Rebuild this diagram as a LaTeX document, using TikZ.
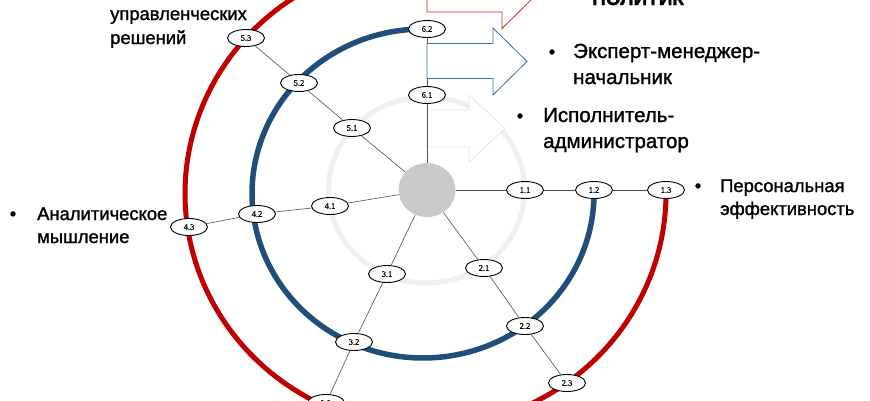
\documentclass[tikz,border=0pt]{standalone}
\usepackage{fontspec}
\setmainfont{Liberation Sans}
\newfontfamily\heavyfont[FakeBold=1.3]{Liberation Sans}
\newfontfamily\lblfont[FakeBold=0.6]{Liberation Serif}
\usetikzlibrary{shapes.geometric}
\definecolor{ringgray}{HTML}{EFEFEF}
\definecolor{hubgray}{HTML}{C9C9C9}
\definecolor{arcblue}{HTML}{1F4E79}
\definecolor{arcred}{HTML}{C00000}
\definecolor{arrblue}{HTML}{3A6FA8}
\definecolor{arrred}{HTML}{E02020}
\definecolor{arrgray}{HTML}{E6E6E6}
\definecolor{spokegray}{HTML}{505050}
\begin{document}
\begin{tikzpicture}[x=1pt,y=-1pt,
  num/.style={ellipse, draw=black, line width=0.9pt, fill=white,
    minimum width=37pt, minimum height=17pt, inner sep=0pt,
    font=\lblfont\fontsize{8.5}{8.5}\selectfont},
  hub/.style={ellipse, fill=hubgray, minimum width=57pt, minimum height=54pt, inner sep=0pt},
  spoke/.style={draw=spokegray, line width=0.6pt},
  txt/.style={anchor=base west, inner sep=0pt, font=\heavyfont\fontsize{18.4}{22}\selectfont},
  bigtxt/.style={anchor=base west, inner sep=0pt, font=\heavyfont\fontsize{20.5}{24}\selectfont},
  bul/.style={anchor=base, inner sep=0pt, font=\heavyfont\fontsize{18.4}{22}\selectfont},
  blockarrow/.style={line width=0.8pt, fill=white}
]
\useasboundingbox (0,0) rectangle (870,400);
\fill[white] (0,0) rectangle (870,400);

% light gray ring and gray arrow
\draw[ringgray, line width=5pt] (426.5,190) ellipse [x radius=98, y radius=93];
\draw[blockarrow, draw=arrgray] (427,110) -- (469,110) -- (469,95) -- (505,128.5) -- (469,162) -- (469,147) -- (427,147) -- cycle;

% blue and red arcs
\draw[arcblue, line width=5.5pt] plot[domain=0:270, samples=180] ({423+171*cos(\x)},{193.5+164.5*sin(\x)});
\draw[arcred, line width=5pt] plot[domain=0:270, samples=200] ({425.5+240.5*cos(\x)},{193.5+234*sin(\x)});

% hub and numbered nodes
\node[hub] (c) at (427,190) {};
\node[num] (n11) at (525,190) {1.1};
\node[num] (n12) at (594,190) {1.2};
\node[num] (n13) at (666,190) {1.3};
\node[num] (n21) at (484,268) {2.1};
\node[num] (n22) at (525,326) {2.2};
\node[num] (n23) at (567,383) {2.3};
\node[num] (n31) at (387,274) {3.1};
\node[num] (n32) at (354,342) {3.2};
\node[num] (n33) at (326,403) {3.3};
\node[num] (n41) at (330,206) {4.1};
\node[num] (n42) at (257,214) {4.2};
\node[num] (n43) at (189,227) {4.3};
\node[num] (n51) at (352,128) {5.1};
\node[num] (n52) at (299,83) {5.2};
\node[num] (n53) at (246,38) {5.3};
\node[num] (n61) at (427,95) {6.1};
\node[num] (n62) at (427,29) {6.2};

% spokes
\draw[spoke] (c) -- (n11) -- (n12) -- (n13);
\draw[spoke] (c) -- (n21) -- (n22) -- (n23);
\draw[spoke] (c) -- (n31) -- (n32) -- (n33);
\draw[spoke] (c) -- (n41) -- (n42) -- (n43);
\draw[spoke] (c) -- (n51) -- (n52) -- (n53);
\draw[spoke] (c) -- (n61) -- (n62);

% blue and red block arrows
\draw[blockarrow, draw=arrblue] (427,43.5) -- (493,43.5) -- (493,28) -- (527,61.5) -- (493,95) -- (493,78.5) -- (427,78.5) -- cycle;
\draw[blockarrow, draw=arrred] (427,-23) -- (502,-23) -- (502,-38.5) -- (536,-5) -- (502,28.5) -- (502,12) -- (427,12) -- cycle;

% texts
\node[anchor=base west, inner sep=0pt, font=\heavyfont\bfseries\fontsize{19}{23}\selectfont] (t0) at (592,5) {ПОЛИТИК};
\node[txt] (t1a) at (110,20) {управленческих};
\node[txt] (t1b) at (110,44) {решений};
\node[bul] (b2) at (552,58) {•};
\node[bigtxt] (t2a) at (573,58) {Эксперт-менеджер-};
\node[bigtxt] (t2b) at (573,84) {начальник};
\node[bul] (b3) at (520,122) {•};
\node[bigtxt] (t3a) at (543,122) {Исполнитель-};
\node[bigtxt] (t3b) at (543,148) {администратор};
\node[bul] (b4) at (698,192) {•};
\node[txt] (t4a) at (720,192) {Персональная};
\node[txt] (t4b) at (720,215) {эффективность};
\node[bul] (b5) at (13,220) {•};
\node[txt] (t5a) at (37,220) {Аналитическое};
\node[txt] (t5b) at (37,243) {мышление};
\end{tikzpicture}
\end{document}
